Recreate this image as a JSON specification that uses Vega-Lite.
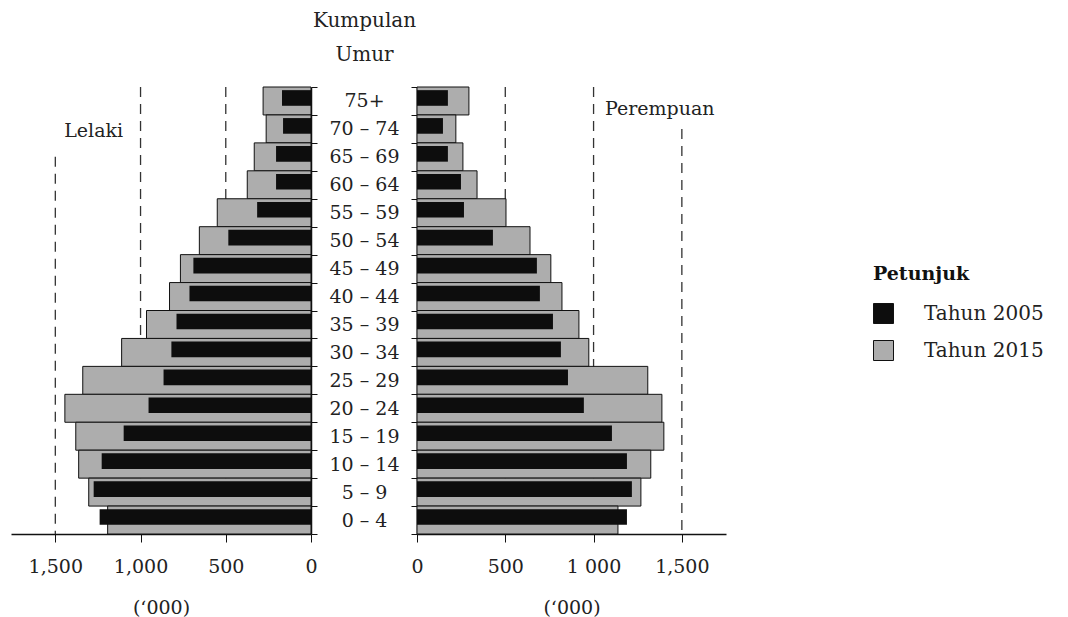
{
  "$schema": "https://vega.github.io/schema/vega-lite/v6.json",
  "background": "white",
  "padding": {"left": 11, "top": 10, "right": 5, "bottom": 5},
  "bounds": "flush",
  "spacing": 106,
  "config": {
    "view": {"stroke": null},
    "font": "DejaVu Serif",
    "axis": {"labelFont": "DejaVu Serif", "titleFont": "DejaVu Serif", "labelColor": "#222", "titleColor": "#222", "domainColor": "#111", "tickColor": "#111", "grid": false, "labelFontSize": 18, "titleFontSize": 18, "titleFontWeight": "normal"},
    "legend": {"labelFont": "DejaVu Serif", "titleFont": "DejaVu Serif", "labelColor": "#222", "titleColor": "#111"}
  },
  "datasets": {
    "pop": [
      {"age": "75+", "sex": "L", "year": "Tahun 2005", "value": 170},
      {"age": "70 – 74", "sex": "L", "year": "Tahun 2005", "value": 164},
      {"age": "65 – 69", "sex": "L", "year": "Tahun 2005", "value": 205},
      {"age": "60 – 64", "sex": "L", "year": "Tahun 2005", "value": 205},
      {"age": "55 – 59", "sex": "L", "year": "Tahun 2005", "value": 316},
      {"age": "50 – 54", "sex": "L", "year": "Tahun 2005", "value": 485},
      {"age": "45 – 49", "sex": "L", "year": "Tahun 2005", "value": 690},
      {"age": "40 – 44", "sex": "L", "year": "Tahun 2005", "value": 713},
      {"age": "35 – 39", "sex": "L", "year": "Tahun 2005", "value": 789},
      {"age": "30 – 34", "sex": "L", "year": "Tahun 2005", "value": 819},
      {"age": "25 – 29", "sex": "L", "year": "Tahun 2005", "value": 865},
      {"age": "20 – 24", "sex": "L", "year": "Tahun 2005", "value": 953},
      {"age": "15 – 19", "sex": "L", "year": "Tahun 2005", "value": 1099},
      {"age": "10 – 14", "sex": "L", "year": "Tahun 2005", "value": 1228},
      {"age": "5 – 9", "sex": "L", "year": "Tahun 2005", "value": 1275},
      {"age": "0 – 4", "sex": "L", "year": "Tahun 2005", "value": 1240},
      {"age": "75+", "sex": "L", "year": "Tahun 2015", "value": 281},
      {"age": "70 – 74", "sex": "L", "year": "Tahun 2015", "value": 263},
      {"age": "65 – 69", "sex": "L", "year": "Tahun 2015", "value": 333},
      {"age": "60 – 64", "sex": "L", "year": "Tahun 2015", "value": 374},
      {"age": "55 – 59", "sex": "L", "year": "Tahun 2015", "value": 550},
      {"age": "50 – 54", "sex": "L", "year": "Tahun 2015", "value": 655},
      {"age": "45 – 49", "sex": "L", "year": "Tahun 2015", "value": 766},
      {"age": "40 – 44", "sex": "L", "year": "Tahun 2015", "value": 830},
      {"age": "35 – 39", "sex": "L", "year": "Tahun 2015", "value": 965},
      {"age": "30 – 34", "sex": "L", "year": "Tahun 2015", "value": 1111},
      {"age": "25 – 29", "sex": "L", "year": "Tahun 2015", "value": 1339},
      {"age": "20 – 24", "sex": "L", "year": "Tahun 2015", "value": 1444},
      {"age": "15 – 19", "sex": "L", "year": "Tahun 2015", "value": 1380},
      {"age": "10 – 14", "sex": "L", "year": "Tahun 2015", "value": 1363},
      {"age": "5 – 9", "sex": "L", "year": "Tahun 2015", "value": 1304},
      {"age": "0 – 4", "sex": "L", "year": "Tahun 2015", "value": 1193},
      {"age": "75+", "sex": "P", "year": "Tahun 2005", "value": 175},
      {"age": "70 – 74", "sex": "P", "year": "Tahun 2005", "value": 147},
      {"age": "65 – 69", "sex": "P", "year": "Tahun 2005", "value": 175},
      {"age": "60 – 64", "sex": "P", "year": "Tahun 2005", "value": 249},
      {"age": "55 – 59", "sex": "P", "year": "Tahun 2005", "value": 266},
      {"age": "50 – 54", "sex": "P", "year": "Tahun 2005", "value": 430},
      {"age": "45 – 49", "sex": "P", "year": "Tahun 2005", "value": 679},
      {"age": "40 – 44", "sex": "P", "year": "Tahun 2005", "value": 696},
      {"age": "35 – 39", "sex": "P", "year": "Tahun 2005", "value": 770},
      {"age": "30 – 34", "sex": "P", "year": "Tahun 2005", "value": 815},
      {"age": "25 – 29", "sex": "P", "year": "Tahun 2005", "value": 855},
      {"age": "20 – 24", "sex": "P", "year": "Tahun 2005", "value": 945},
      {"age": "15 – 19", "sex": "P", "year": "Tahun 2005", "value": 1104},
      {"age": "10 – 14", "sex": "P", "year": "Tahun 2005", "value": 1189},
      {"age": "5 – 9", "sex": "P", "year": "Tahun 2005", "value": 1217},
      {"age": "0 – 4", "sex": "P", "year": "Tahun 2005", "value": 1189},
      {"age": "75+", "sex": "P", "year": "Tahun 2015", "value": 294},
      {"age": "70 – 74", "sex": "P", "year": "Tahun 2015", "value": 220},
      {"age": "65 – 69", "sex": "P", "year": "Tahun 2015", "value": 260},
      {"age": "60 – 64", "sex": "P", "year": "Tahun 2015", "value": 340},
      {"age": "55 – 59", "sex": "P", "year": "Tahun 2015", "value": 504},
      {"age": "50 – 54", "sex": "P", "year": "Tahun 2015", "value": 640},
      {"age": "45 – 49", "sex": "P", "year": "Tahun 2015", "value": 758},
      {"age": "40 – 44", "sex": "P", "year": "Tahun 2015", "value": 821},
      {"age": "35 – 39", "sex": "P", "year": "Tahun 2015", "value": 917},
      {"age": "30 – 34", "sex": "P", "year": "Tahun 2015", "value": 973},
      {"age": "25 – 29", "sex": "P", "year": "Tahun 2015", "value": 1307},
      {"age": "20 – 24", "sex": "P", "year": "Tahun 2015", "value": 1387},
      {"age": "15 – 19", "sex": "P", "year": "Tahun 2015", "value": 1398},
      {"age": "10 – 14", "sex": "P", "year": "Tahun 2015", "value": 1324},
      {"age": "5 – 9", "sex": "P", "year": "Tahun 2015", "value": 1268},
      {"age": "0 – 4", "sex": "P", "year": "Tahun 2015", "value": 1138}
    ],
    "refs": [
      {"side": "L", "value": 500, "from": null},
      {"side": "L", "value": 1000, "from": null},
      {"side": "L", "value": 1500, "from": "65 – 69"},
      {"side": "P", "value": 500, "from": null},
      {"side": "P", "value": 1000, "from": null},
      {"side": "P", "value": 1500, "from": "70 – 74"}
    ],
    "notes": [
      {"side": "L", "value": 1275, "age": "70 – 74", "label": "Lelaki"},
      {"side": "P", "value": 1375, "age": "75+", "label": "Perempuan"}
    ]
  },
  "hconcat": [
    {
      "width": 300,
      "height": 447,
      "encoding": {
        "x": {
          "field": "value", "type": "quantitative",
          "scale": {"domain": [0, 1760], "reverse": true, "nice": false},
          "axis": {"values": [0, 500, 1000, 1500], "labelExpr": "format(datum.value, ',')", "title": "(‘000)", "tickSize": 8, "labelPadding": 15, "titlePadding": 22, "domainWidth": 1.5, "labelFlush": false, "labelFontSize": 19, "titleFontSize": 19}
        }
      },
      "layer": [
        {
          "data": {"name": "refs"},
          "transform": [{"filter": "datum.side === 'L' && datum.from === null"}],
          "mark": {"type": "rule", "strokeDash": [10, 7], "color": "#333", "strokeWidth": 1.3}
        },
        {
          "data": {"name": "refs"},
          "transform": [{"filter": "datum.side === 'L' && datum.from !== null"}],
          "mark": {"type": "rule", "strokeDash": [10, 7], "color": "#333", "strokeWidth": 1.3},
          "encoding": {
            "y": {"field": "from", "type": "ordinal", "scale": {"domain": ["75+", "70 – 74", "65 – 69", "60 – 64", "55 – 59", "50 – 54", "45 – 49", "40 – 44", "35 – 39", "30 – 34", "25 – 29", "20 – 24", "15 – 19", "10 – 14", "5 – 9", "0 – 4"], "paddingInner": 0, "paddingOuter": 0}},
            "y2": {"value": "height"}
          }
        },
        {
          "data": {"name": "pop"},
          "transform": [{"filter": "datum.sex === 'L' && datum.year === 'Tahun 2015'"}],
          "mark": {"type": "bar", "stroke": "#111", "strokeWidth": 1},
          "encoding": {
            "y": {"field": "age", "type": "ordinal", "scale": {"domain": ["75+", "70 – 74", "65 – 69", "60 – 64", "55 – 59", "50 – 54", "45 – 49", "40 – 44", "35 – 39", "30 – 34", "25 – 29", "20 – 24", "15 – 19", "10 – 14", "5 – 9", "0 – 4"], "paddingInner": 0, "paddingOuter": 0},
              "axis": {"orient": "right", "domain": true, "domainWidth": 1.5, "ticks": true, "tickBand": "extent", "tickSize": 6, "labelAlign": "center", "labelPadding": 47, "labelFontSize": 19, "labelBaseline": "middle", "title": ["Kumpulan", "Umur"], "titleAngle": 0, "titleX": 53, "titleY": -77, "titleAlign": "center", "titleBaseline": "top", "titleFontSize": 20, "titleLineHeight": 34}},
            "fill": {"field": "year", "type": "nominal", "scale": {"domain": ["Tahun 2005", "Tahun 2015"], "range": ["#0d0d0d", "#adadad"]},
              "legend": {"title": "Petunjuk", "orient": "none", "legendX": 862, "legendY": 178, "symbolType": "square", "symbolSize": 400, "symbolStrokeColor": "#111", "symbolStrokeWidth": 1, "labelFontSize": 20, "titleFontSize": 19, "titleFontWeight": "bold", "rowPadding": 12, "labelOffset": 30, "titlePadding": 19}}
          }
        },
        {
          "data": {"name": "pop"},
          "transform": [{"filter": "datum.sex === 'L' && datum.year === 'Tahun 2005'"}],
          "mark": {"type": "bar", "height": {"band": 0.56}, "yOffset": -3},
          "encoding": {
            "y": {"field": "age", "type": "ordinal"},
            "fill": {"field": "year", "type": "nominal"}
          }
        },
        {
          "data": {"name": "notes"},
          "transform": [{"filter": "datum.side === 'L'"}],
          "mark": {"type": "text", "fontSize": 19, "color": "#222", "align": "center", "dy": 2, "font": "DejaVu Serif"},
          "encoding": {
            "y": {"field": "age", "type": "ordinal"},
            "text": {"field": "label"}
          }
        }
      ]
    },
    {
      "width": 309,
      "height": 447,
      "encoding": {
        "x": {
          "field": "value", "type": "quantitative",
          "scale": {"domain": [0, 1750], "nice": false},
          "axis": {"values": [0, 500, 1000, 1500], "labelExpr": "datum.value == 1000 ? '1 000' : format(datum.value, ',')", "title": "(‘000)", "tickSize": 8, "labelPadding": 15, "titlePadding": 22, "domainWidth": 1.5, "labelFlush": false, "labelFontSize": 19, "titleFontSize": 19}
        }
      },
      "layer": [
        {
          "data": {"name": "refs"},
          "transform": [{"filter": "datum.side === 'P' && datum.from === null"}],
          "mark": {"type": "rule", "strokeDash": [10, 7], "color": "#333", "strokeWidth": 1.3}
        },
        {
          "data": {"name": "refs"},
          "transform": [{"filter": "datum.side === 'P' && datum.from !== null"}],
          "mark": {"type": "rule", "strokeDash": [10, 7], "color": "#333", "strokeWidth": 1.3},
          "encoding": {
            "y": {"field": "from", "type": "ordinal", "scale": {"domain": ["75+", "70 – 74", "65 – 69", "60 – 64", "55 – 59", "50 – 54", "45 – 49", "40 – 44", "35 – 39", "30 – 34", "25 – 29", "20 – 24", "15 – 19", "10 – 14", "5 – 9", "0 – 4"], "paddingInner": 0, "paddingOuter": 0}},
            "y2": {"value": "height"}
          }
        },
        {
          "data": {"name": "pop"},
          "transform": [{"filter": "datum.sex === 'P' && datum.year === 'Tahun 2015'"}],
          "mark": {"type": "bar", "stroke": "#111", "strokeWidth": 1},
          "encoding": {
            "y": {"field": "age", "type": "ordinal", "scale": {"domain": ["75+", "70 – 74", "65 – 69", "60 – 64", "55 – 59", "50 – 54", "45 – 49", "40 – 44", "35 – 39", "30 – 34", "25 – 29", "20 – 24", "15 – 19", "10 – 14", "5 – 9", "0 – 4"], "paddingInner": 0, "paddingOuter": 0},
              "axis": {"orient": "left", "domain": true, "domainWidth": 1.5, "ticks": true, "tickBand": "extent", "tickSize": 6, "labels": false, "title": null}},
            "fill": {"field": "year", "type": "nominal", "scale": {"domain": ["Tahun 2005", "Tahun 2015"], "range": ["#0d0d0d", "#adadad"]},
              "legend": {"title": "Petunjuk", "orient": "none", "legendX": 862, "legendY": 178, "symbolType": "square", "symbolSize": 400, "symbolStrokeColor": "#111", "symbolStrokeWidth": 1, "labelFontSize": 20, "titleFontSize": 19, "titleFontWeight": "bold", "rowPadding": 12, "labelOffset": 30, "titlePadding": 19}}
          }
        },
        {
          "data": {"name": "pop"},
          "transform": [{"filter": "datum.sex === 'P' && datum.year === 'Tahun 2005'"}],
          "mark": {"type": "bar", "height": {"band": 0.56}, "yOffset": -3},
          "encoding": {
            "y": {"field": "age", "type": "ordinal"},
            "fill": {"field": "year", "type": "nominal"}
          }
        },
        {
          "data": {"name": "notes"},
          "transform": [{"filter": "datum.side === 'P'"}],
          "mark": {"type": "text", "fontSize": 19, "color": "#222", "align": "center", "dy": 8, "font": "DejaVu Serif"},
          "encoding": {
            "y": {"field": "age", "type": "ordinal"},
            "text": {"field": "label"}
          }
        }
      ]
    }
  ]
}
